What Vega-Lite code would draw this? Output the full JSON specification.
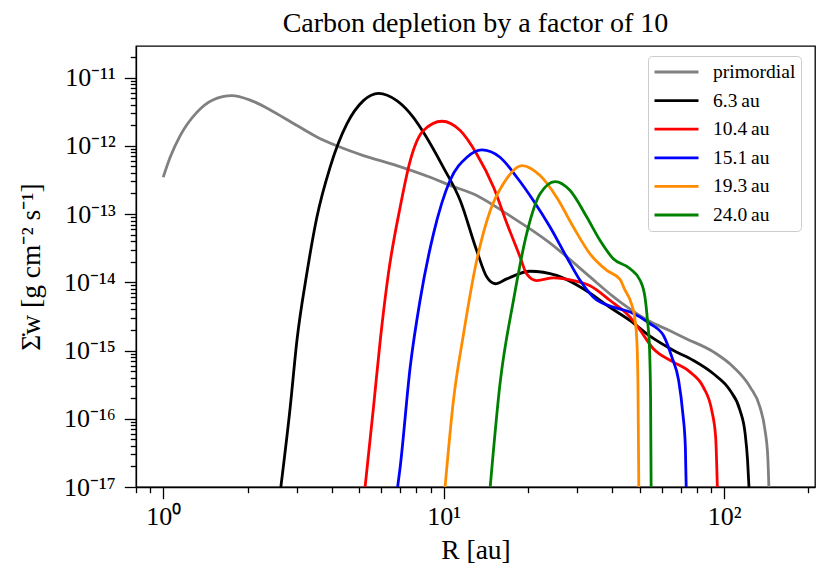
{
  "$schema": "https://vega.github.io/schema/vega-lite/v6.json",
  "autosize": {"type": "none"},
  "padding": {"left": 136, "top": 46, "right": 15, "bottom": 92},
  "width": 679,
  "height": 441,
  "title": {"text": "Carbon depletion by a factor of 10", "font": "Liberation Serif", "fontSize": 28, "fontWeight": "normal", "color": "black", "anchor": "middle", "frame": "group", "baseline": "alphabetic", "offset": -16},
  "data": {"values": [
    {"series": "primordial", "R": 1.0, "S": 3.46e-13},
    {"series": "primordial", "R": 1.059, "S": 6.79e-13},
    {"series": "primordial", "R": 1.15, "S": 1.41e-12},
    {"series": "primordial", "R": 1.318, "S": 3.09e-12},
    {"series": "primordial", "R": 1.51, "S": 4.74e-12},
    {"series": "primordial", "R": 1.758, "S": 5.43e-12},
    {"series": "primordial", "R": 2.042, "S": 4.68e-12},
    {"series": "primordial", "R": 2.472, "S": 3.16e-12},
    {"series": "primordial", "R": 2.999, "S": 1.98e-12},
    {"series": "primordial", "R": 3.532, "S": 1.35e-12},
    {"series": "primordial", "R": 4.159, "S": 1.0e-12},
    {"series": "primordial", "R": 5.176, "S": 7.19e-13},
    {"series": "primordial", "R": 6.808, "S": 5.13e-13},
    {"series": "primordial", "R": 8.954, "S": 3.46e-13},
    {"series": "primordial", "R": 10.54, "S": 2.63e-13},
    {"series": "primordial", "R": 13.12, "S": 1.87e-13},
    {"series": "primordial", "R": 15.89, "S": 1.17e-13},
    {"series": "primordial", "R": 17.74, "S": 8.71e-14},
    {"series": "primordial", "R": 20.89, "S": 5.62e-14},
    {"series": "primordial", "R": 23.33, "S": 4.07e-14},
    {"series": "primordial", "R": 26.12, "S": 2.82e-14},
    {"series": "primordial", "R": 33.27, "S": 1.2e-14},
    {"series": "primordial", "R": 40.27, "S": 6.17e-15},
    {"series": "primordial", "R": 44.67, "S": 4.47e-15},
    {"series": "primordial", "R": 53.58, "S": 2.75e-15},
    {"series": "primordial", "R": 64.12, "S": 1.95e-15},
    {"series": "primordial", "R": 73.62, "S": 1.48e-15},
    {"series": "primordial", "R": 91.62, "S": 9.55e-16},
    {"series": "primordial", "R": 107.9, "S": 5.75e-16},
    {"series": "primordial", "R": 123.9, "S": 2.91e-16},
    {"series": "primordial", "R": 134.3, "S": 1.48e-16},
    {"series": "primordial", "R": 140.0, "S": 6.76e-17},
    {"series": "primordial", "R": 143.2, "S": 2.75e-17},
    {"series": "primordial", "R": 144.5, "S": 1e-17},

    {"series": "6.3\u2009au", "R": 2.628, "S": 1e-17},
    {"series": "6.3\u2009au", "R": 2.838, "S": 1.48e-16},
    {"series": "6.3\u2009au", "R": 2.999, "S": 1.41e-15},
    {"series": "6.3\u2009au", "R": 3.251, "S": 1.33e-14},
    {"series": "6.3\u2009au", "R": 3.532, "S": 8.97e-14},
    {"series": "6.3\u2009au", "R": 3.936, "S": 4.84e-13},
    {"series": "6.3\u2009au", "R": 4.519, "S": 2.09e-12},
    {"series": "6.3\u2009au", "R": 5.176, "S": 4.59e-12},
    {"series": "6.3\u2009au", "R": 5.861, "S": 5.87e-12},
    {"series": "6.3\u2009au", "R": 6.808, "S": 4.59e-12},
    {"series": "6.3\u2009au", "R": 7.798, "S": 2.61e-12},
    {"series": "6.3\u2009au", "R": 8.472, "S": 1.58e-12},
    {"series": "6.3\u2009au", "R": 9.977, "S": 4.84e-13},
    {"series": "6.3\u2009au", "R": 11.46, "S": 1.58e-13},
    {"series": "6.3\u2009au", "R": 13.12, "S": 2.92e-14},
    {"series": "6.3\u2009au", "R": 14.26, "S": 1.19e-14},
    {"series": "6.3\u2009au", "R": 15.28, "S": 9.51e-15},
    {"series": "6.3\u2009au", "R": 16.79, "S": 1.12e-14},
    {"series": "6.3\u2009au", "R": 20.32, "S": 1.45e-14},
    {"series": "6.3\u2009au", "R": 25.29, "S": 1.26e-14},
    {"series": "6.3\u2009au", "R": 31.48, "S": 8.04e-15},
    {"series": "6.3\u2009au", "R": 39.26, "S": 4.27e-15},
    {"series": "6.3\u2009au", "R": 46.24, "S": 2.75e-15},
    {"series": "6.3\u2009au", "R": 54.45, "S": 1.62e-15},
    {"series": "6.3\u2009au", "R": 66.07, "S": 1.0e-15},
    {"series": "6.3\u2009au", "R": 77.8, "S": 7.14e-16},
    {"series": "6.3\u2009au", "R": 91.62, "S": 4.56e-16},
    {"series": "6.3\u2009au", "R": 105.0, "S": 2.61e-16},
    {"series": "6.3\u2009au", "R": 114.0, "S": 1.33e-16},
    {"series": "6.3\u2009au", "R": 118.9, "S": 6.05e-17},
    {"series": "6.3\u2009au", "R": 121.3, "S": 2.46e-17},
    {"series": "6.3\u2009au", "R": 122.7, "S": 1e-17},

    {"series": "10.4\u2009au", "R": 5.248, "S": 1e-17},
    {"series": "10.4\u2009au", "R": 5.623, "S": 1.48e-16},
    {"series": "10.4\u2009au", "R": 5.943, "S": 1.41e-15},
    {"series": "10.4\u2009au", "R": 6.353, "S": 1.33e-14},
    {"series": "10.4\u2009au", "R": 6.998, "S": 1.26e-13},
    {"series": "10.4\u2009au", "R": 7.603, "S": 6.07e-13},
    {"series": "10.4\u2009au", "R": 8.472, "S": 1.67e-12},
    {"series": "10.4\u2009au", "R": 9.863, "S": 2.29e-12},
    {"series": "10.4\u2009au", "R": 11.46, "S": 1.67e-12},
    {"series": "10.4\u2009au", "R": 13.12, "S": 7.6e-13},
    {"series": "10.4\u2009au", "R": 15.07, "S": 2.47e-13},
    {"series": "10.4\u2009au", "R": 16.79, "S": 7.41e-14},
    {"series": "10.4\u2009au", "R": 18.75, "S": 2.33e-14},
    {"series": "10.4\u2009au", "R": 19.77, "S": 1.33e-14},
    {"series": "10.4\u2009au", "R": 21.48, "S": 1.06e-14},
    {"series": "10.4\u2009au", "R": 24.66, "S": 1.16e-14},
    {"series": "10.4\u2009au", "R": 29.04, "S": 1.06e-14},
    {"series": "10.4\u2009au", "R": 33.27, "S": 8.91e-15},
    {"series": "10.4\u2009au", "R": 39.26, "S": 5.41e-15},
    {"series": "10.4\u2009au", "R": 46.24, "S": 3.09e-15},
    {"series": "10.4\u2009au", "R": 50.12, "S": 2.0e-15},
    {"series": "10.4\u2009au", "R": 55.98, "S": 1.06e-15},
    {"series": "10.4\u2009au", "R": 66.07, "S": 6.76e-16},
    {"series": "10.4\u2009au", "R": 75.68, "S": 4.83e-16},
    {"series": "10.4\u2009au", "R": 84.33, "S": 2.91e-16},
    {"series": "10.4\u2009au", "R": 90.36, "S": 1.33e-16},
    {"series": "10.4\u2009au", "R": 93.33, "S": 5.4e-17},
    {"series": "10.4\u2009au", "R": 94.62, "S": 1e-17},

    {"series": "15.1\u2009au", "R": 6.855, "S": 1e-17},
    {"series": "15.1\u2009au", "R": 7.0, "S": 1.96e-17},
    {"series": "15.1\u2009au", "R": 7.6, "S": 5.71e-16},
    {"series": "15.1\u2009au", "R": 8.24, "S": 5.41e-15},
    {"series": "15.1\u2009au", "R": 9.2, "S": 5.13e-14},
    {"series": "15.1\u2009au", "R": 10.54, "S": 3.1e-13},
    {"series": "15.1\u2009au", "R": 12.11, "S": 6.79e-13},
    {"series": "15.1\u2009au", "R": 13.68, "S": 8.71e-13},
    {"series": "15.1\u2009au", "R": 15.89, "S": 6.79e-13},
    {"series": "15.1\u2009au", "R": 18.24, "S": 3.46e-13},
    {"series": "15.1\u2009au", "R": 20.89, "S": 1.58e-13},
    {"series": "15.1\u2009au", "R": 23.99, "S": 6.41e-14},
    {"series": "15.1\u2009au", "R": 27.48, "S": 2.33e-14},
    {"series": "15.1\u2009au", "R": 30.69, "S": 1.06e-14},
    {"series": "15.1\u2009au", "R": 34.2, "S": 6.05e-15},
    {"series": "15.1\u2009au", "R": 40.27, "S": 4.32e-15},
    {"series": "15.1\u2009au", "R": 46.24, "S": 3.66e-15},
    {"series": "15.1\u2009au", "R": 54.45, "S": 2.47e-15},
    {"series": "15.1\u2009au", "R": 60.81, "S": 1.66e-15},
    {"series": "15.1\u2009au", "R": 65.16, "S": 8.0e-16},
    {"series": "15.1\u2009au", "R": 68.87, "S": 3.65e-16},
    {"series": "15.1\u2009au", "R": 71.29, "S": 1.19e-16},
    {"series": "15.1\u2009au", "R": 72.78, "S": 3.85e-17},
    {"series": "15.1\u2009au", "R": 73.28, "S": 1e-17},

    {"series": "19.3\u2009au", "R": 10.12, "S": 1e-17},
    {"series": "19.3\u2009au", "R": 10.84, "S": 1.86e-16},
    {"series": "19.3\u2009au", "R": 11.78, "S": 1.76e-15},
    {"series": "19.3\u2009au", "R": 13.12, "S": 2.08e-14},
    {"series": "19.3\u2009au", "R": 14.66, "S": 1.12e-13},
    {"series": "19.3\u2009au", "R": 16.33, "S": 2.77e-13},
    {"series": "19.3\u2009au", "R": 19.01, "S": 5.13e-13},
    {"series": "19.3\u2009au", "R": 22.08, "S": 3.66e-13},
    {"series": "19.3\u2009au", "R": 25.29, "S": 1.76e-13},
    {"series": "19.3\u2009au", "R": 29.04, "S": 6.41e-14},
    {"series": "19.3\u2009au", "R": 33.27, "S": 2.61e-14},
    {"series": "19.3\u2009au", "R": 38.19, "S": 1.49e-14},
    {"series": "19.3\u2009au", "R": 42.56, "S": 1.1e-14},
    {"series": "19.3\u2009au", "R": 44.16, "S": 7.94e-15},
    {"series": "19.3\u2009au", "R": 46.88, "S": 4.68e-15},
    {"series": "19.3\u2009au", "R": 48.19, "S": 2.75e-15},
    {"series": "19.3\u2009au", "R": 48.87, "S": 1.41e-15},
    {"series": "19.3\u2009au", "R": 49.32, "S": 3.16e-16},
    {"series": "19.3\u2009au", "R": 49.66, "S": 1e-17},

    {"series": "24.0\u2009au", "R": 14.66, "S": 1e-17},
    {"series": "24.0\u2009au", "R": 15.89, "S": 3.27e-16},
    {"series": "24.0\u2009au", "R": 17.74, "S": 5.41e-15},
    {"series": "24.0\u2009au", "R": 19.77, "S": 5.13e-14},
    {"series": "24.0\u2009au", "R": 22.08, "S": 1.98e-13},
    {"series": "24.0\u2009au", "R": 25.0, "S": 2.99e-13},
    {"series": "24.0\u2009au", "R": 28.25, "S": 2.21e-13},
    {"series": "24.0\u2009au", "R": 32.43, "S": 8.97e-14},
    {"series": "24.0\u2009au", "R": 36.14, "S": 4.09e-14},
    {"series": "24.0\u2009au", "R": 40.27, "S": 2.21e-14},
    {"series": "24.0\u2009au", "R": 46.24, "S": 1.58e-14},
    {"series": "24.0\u2009au", "R": 50.23, "S": 1.06e-14},
    {"series": "24.0\u2009au", "R": 52.24, "S": 6.05e-15},
    {"series": "24.0\u2009au", "R": 53.33, "S": 2.75e-15},
    {"series": "24.0\u2009au", "R": 54.2, "S": 1.12e-15},
    {"series": "24.0\u2009au", "R": 54.7, "S": 2.08e-16},
    {"series": "24.0\u2009au", "R": 54.95, "S": 1e-17}
  ]},
  "mark": {"type": "line", "interpolate": "monotone", "strokeWidth": 2.8, "clip": true},
  "encoding": {
    "x": {
      "field": "R", "type": "quantitative",
      "scale": {"type": "log", "domain": [0.8, 211], "nice": false},
      "axis": {
        "values": [0.8, 0.9, 1, 2, 3, 4, 5, 6, 7, 8, 9, 10, 20, 30, 40, 50, 60, 70, 80, 90, 100, 200],
        "labelExpr": "abs(log(datum.value)/LN10 - round(log(datum.value)/LN10)) < 0.001 ? ['10⁰','10¹','10²'][round(log(datum.value)/LN10)] : ''",
        "tickSize": {"condition": {"test": "abs(log(datum.value)/LN10 - round(log(datum.value)/LN10)) < 0.001", "value": 11.7}, "value": 5.7},
        "labelBaseline": "alphabetic",
        "labelPadding": 26,
        "title": "R [au]",
        "titleX": 339.5,
        "titleY": 71,
        "titleBaseline": "alphabetic",
        "titleAnchor": "middle",
        "titleAlign": "center"
      }
    },
    "y": {
      "field": "S", "type": "quantitative",
      "scale": {"type": "log", "domain": [1e-17, 2.9e-11], "nice": false},
      "axis": {
        "values": [1e-17, 2e-17, 3e-17, 4e-17, 5e-17, 6e-17, 7e-17, 8e-17, 9e-17,
                   1e-16, 2e-16, 3e-16, 4e-16, 5e-16, 6e-16, 7e-16, 8e-16, 9e-16,
                   1e-15, 2e-15, 3e-15, 4e-15, 5e-15, 6e-15, 7e-15, 8e-15, 9e-15,
                   1e-14, 2e-14, 3e-14, 4e-14, 5e-14, 6e-14, 7e-14, 8e-14, 9e-14,
                   1e-13, 2e-13, 3e-13, 4e-13, 5e-13, 6e-13, 7e-13, 8e-13, 9e-13,
                   1e-12, 2e-12, 3e-12, 4e-12, 5e-12, 6e-12, 7e-12, 8e-12, 9e-12,
                   1e-11, 2e-11],
        "labelExpr": "abs(log(datum.value)/LN10 - round(log(datum.value)/LN10)) < 0.001 ? ['10⁻¹⁷','10⁻¹⁶','10⁻¹⁵','10⁻¹⁴','10⁻¹³','10⁻¹²','10⁻¹¹'][round(log(datum.value)/LN10)+17] : ''",
        "tickSize": {"condition": {"test": "abs(log(datum.value)/LN10 - round(log(datum.value)/LN10)) < 0.001", "value": 11.7}, "value": 5.7},
        "labelBaseline": "middle",
        "labelPadding": 9,
        "title": "Σ̇w [g cm⁻² s⁻¹]",
        "titleX": -97,
        "titleY": 220.5,
        "titleAngle": -90,
        "titleBaseline": "alphabetic",
        "titleAlign": "center"
      }
    },
    "color": {
      "field": "series", "type": "nominal",
      "scale": {
        "domain": ["primordial", "6.3\u2009au", "10.4\u2009au", "15.1\u2009au", "19.3\u2009au", "24.0\u2009au"],
        "range": ["#808080", "#000000", "#ff0000", "#0000ff", "#ff8c00", "#008000"]
      },
      "legend": {
        "title": null,
        "orient": "none",
        "legendX": 512,
        "legendY": 10,
        "symbolType": "stroke",
        "symbolSize": 1936,
        "symbolStrokeWidth": 2.8,
        "clipHeight": 22,
        "rowPadding": 6.6,
        "labelOffset": 13,
        "labelFont": "Liberation Serif",
        "labelFontSize": 19.5,
        "labelColor": "black",
        "padding": 5,
        "fillColor": "white",
        "strokeColor": "#cccccc",
        "cornerRadius": 4
      }
    }
  },
  "config": {
    "font": "Liberation Serif",
    "view": {"stroke": "black", "strokeWidth": 1.3},
    "axis": {
      "grid": false,
      "labelFont": "Liberation Serif",
      "labelFontSize": 26,
      "labelColor": "black",
      "labelOverlap": false,
      "labelFlush": false,
      "labelBound": false,
      "tickColor": "black",
      "tickWidth": 1.3,
      "domainColor": "black",
      "domainWidth": 1.3,
      "titleFont": "Liberation Serif",
      "titleFontSize": 27.5,
      "titleFontWeight": "normal",
      "titleColor": "black"
    }
  }
}
